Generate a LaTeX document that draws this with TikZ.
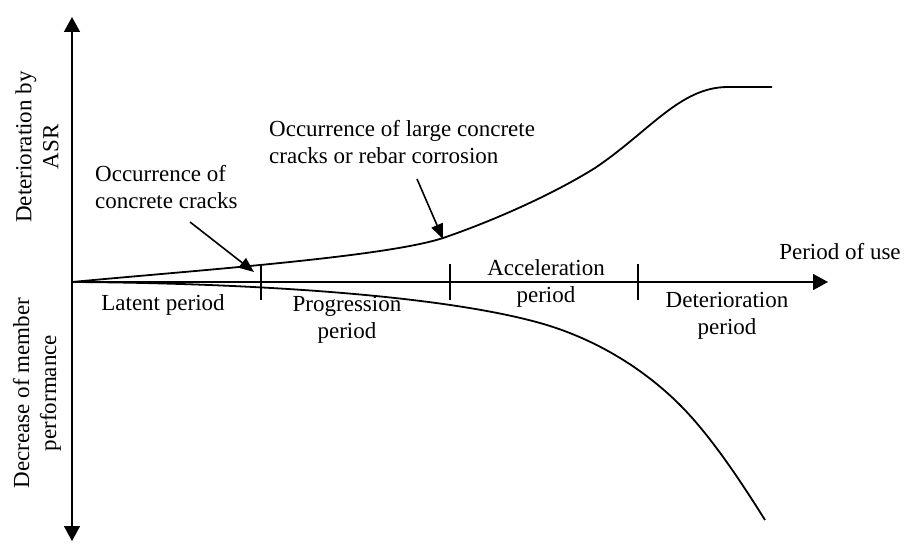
\documentclass[tikz,border=0pt]{standalone}
\usepackage{fontspec}
\setmainfont{Liberation Serif}
\usetikzlibrary{arrows.meta}
\begin{document}
\begin{tikzpicture}[x=1pt,y=-1pt,
  axis/.style={line width=1.6pt,-{Triangle[length=15pt,width=16pt]}},
  curve/.style={line width=1.8pt},
  tick/.style={line width=1.6pt},
  note/.style={line width=1.6pt,-{Triangle[length=15pt,width=12pt]}},
  lbl/.style={font=\fontsize{23}{27}\selectfont,inner sep=0pt,align=center}]
\useasboundingbox (0,0) rectangle (904,543);
% axes
\coordinate (O) at (72,282);
\coordinate (Ytop) at (72,17);
\coordinate (Ybot) at (72,541);
\coordinate (Xend) at (828,282);
\draw[axis] (O) -- (Ytop);
\draw[axis] (O) -- (Ybot);
\draw[axis] (O) -- (Xend);
% ticks
\foreach \n/\x in {t1/261,t2/450,t3/638}{
  \coordinate (\n a) at (\x,264);
  \coordinate (\n b) at (\x,300);
  \draw[tick] (\n a) -- (\n b);
}
% upper curve
\coordinate (U1) at (443,238);
\coordinate (U2) at (595,168);
\coordinate (U3) at (728,87);
\coordinate (U4) at (772,87);
\draw[curve] (O) .. controls (200,270) and (385,257) .. (U1)
  .. controls (490,222) and (550,196) .. (U2)
  .. controls (650,131) and (680,87) .. (U3) -- (U4);
% lower curve
\coordinate (L1) at (540,323);
\coordinate (L2) at (680,405);
\coordinate (L3) at (765,520);
\draw[curve] (O) .. controls (250,283) and (440,295) .. (L1)
  .. controls (590,337) and (640,365) .. (L2)
  .. controls (710,435) and (740,480) .. (L3);
% labels
\node[lbl,rotate=90] (ylab1) at (37,147) {Deterioration by\\ASR};
\node[lbl,rotate=90] (ylab2) at (37,393) {Decrease of member\\performance};
\node[lbl,align=left,anchor=west] (occ1) at (95,187) {Occurrence of\\concrete cracks};
\node[lbl,align=left,anchor=west] (occ2) at (269,142) {Occurrence of large concrete\\cracks or rebar corrosion};
\node[lbl] (lat) at (163,305) {Latent period};
\node[lbl] (prog) at (347,320) {Progression\\period};
\node[lbl] (acc) at (546,283) {Acceleration\\period};
\node[lbl] (det) at (727,316) {Deterioration\\period};
\node[lbl] (use) at (840,252) {Period of use};
% annotation arrows
\coordinate (a1s) at (190,222);
\coordinate (a1e) at (254,272);
\coordinate (a2s) at (417,179);
\coordinate (a2e) at (443,239);
\draw[note] (a1s) -- (a1e);
\draw[note] (a2s) -- (a2e);
\end{tikzpicture}
\end{document}
